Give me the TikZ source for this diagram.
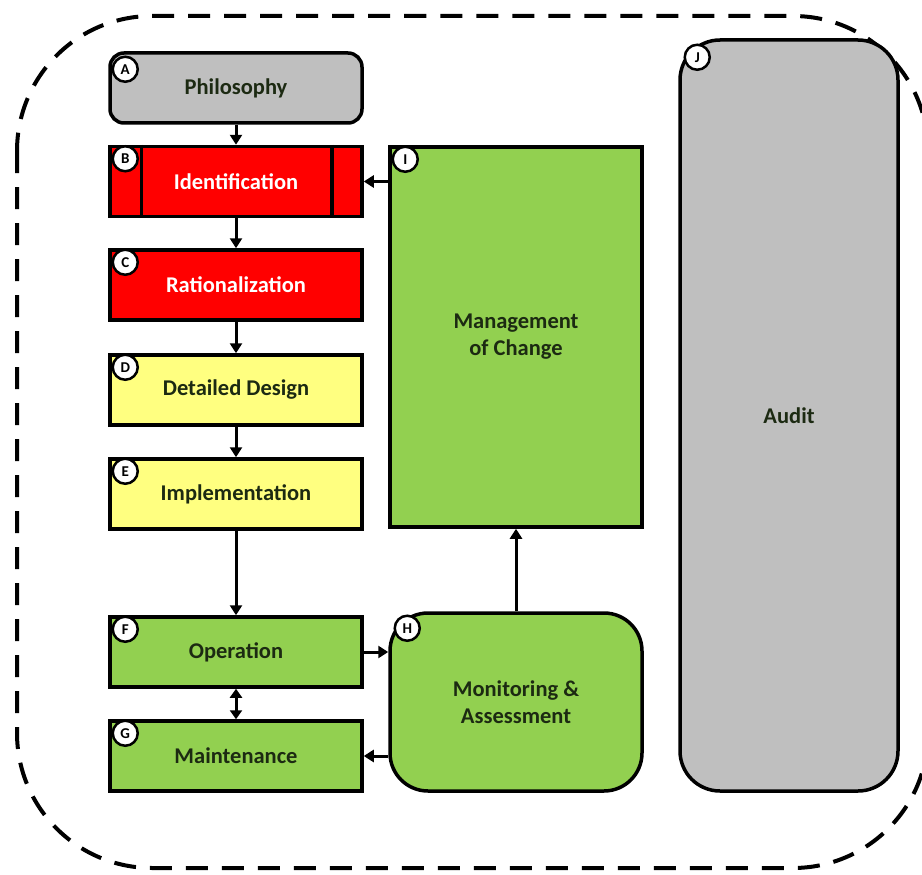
\documentclass[tikz,border=0pt]{standalone}
\usepackage{fontspec}
\setmainfont{Carlito}
\usetikzlibrary{arrows.meta,calc}
\definecolor{gfill}{HTML}{BFBFBF}
\definecolor{rfill}{HTML}{FF0000}
\definecolor{yfill}{HTML}{FFFF80}
\definecolor{grfill}{HTML}{92D050}
\definecolor{dtext}{HTML}{1C2A12}
\tikzset{
  box/.style={draw=black, line width=3.5pt, minimum width=252pt, minimum height=70pt,
    font=\fontsize{22.5}{27}\selectfont\bfseries, text=dtext, align=center, inner sep=0pt},
  lab/.style={circle, draw=black, fill=white, line width=2.5pt, minimum size=25pt, inner sep=0pt,
    font=\fontsize{15}{15}\selectfont\bfseries},
  conn/.style={line width=3pt, -{Triangle[length=10pt,width=12pt]}},
  dconn/.style={line width=3pt, {Triangle[length=9pt,width=12pt]}-{Triangle[length=9pt,width=12pt]}},
}
\begin{document}
\begin{tikzpicture}[x=1pt,y=-1pt]
\useasboundingbox (0,0) rectangle (922,875);
\begin{scope}
\clip (0,0) rectangle (922,875);
\draw[line width=4pt, dash pattern=on 22pt off 14pt, rounded corners=135pt] (17,16) rectangle (928,868);
\end{scope}
% left column
\node[box, fill=gfill, rounded corners=14pt] (A) at (236,88) {Philosophy};
\node[box, fill=rfill, text=white] (B) at (236,181.5) {Identification};
\draw[line width=3.5pt] ([xshift=33pt]B.north west) -- ([xshift=33pt]B.south west);
\draw[line width=3.5pt] ([xshift=-32pt]B.north east) -- ([xshift=-32pt]B.south east);
\node[box, fill=rfill, text=white] (C) at (236,285) {Rationalization};
\node[box, fill=yfill] (D) at (236,390) {Detailed Design};
\node[box, fill=yfill] (E) at (236,494) {Implementation};
\node[box, fill=grfill] (F) at (236,652) {Operation};
\node[box, fill=grfill] (G) at (236,756) {Maintenance};
% middle column
\node[box, fill=grfill, minimum width=252pt, minimum height=380pt] (I) at (516,337) {Management\\of Change};
\node[box, fill=grfill, rounded corners=38pt, minimum width=252pt, minimum height=178pt] (H) at (516,702) {Monitoring \&\\Assessment};
% right
\node[box, fill=gfill, rounded corners=40pt, minimum width=218pt, minimum height=751pt] (J) at (789,415.5) {Audit};
% labels
\node[lab] (la) at ([shift={(17pt,-18pt)}]A.north west) {A};
\node[lab] (lb) at ([shift={(17pt,-14pt)}]B.north west) {B};
\node[lab] (lc) at ([shift={(17pt,-14pt)}]C.north west) {C};
\node[lab] (ld) at ([shift={(17pt,-14pt)}]D.north west) {D};
\node[lab] (le) at ([shift={(17pt,-14pt)}]E.north west) {E};
\node[lab] (lf) at ([shift={(17pt,-14pt)}]F.north west) {F};
\node[lab] (lg) at ([shift={(17pt,-14pt)}]G.north west) {G};
\node[lab] (li) at ([shift={(17pt,-14pt)}]I.north west) {I};
\node[lab] (lh) at ([shift={(19pt,-17pt)}]H.north west) {H};
\node[lab] (lj) at ([shift={(19pt,-19pt)}]J.north west) {J};
% connectors
\draw[conn] (A.south) -- (B.north);
\draw[conn] (B.south) -- (C.north);
\draw[conn] (C.south) -- (D.north);
\draw[conn] (D.south) -- (E.north);
\draw[conn] (E.south) -- (F.north);
\draw[dconn] (F.south) -- (G.north);
\draw[conn] (F.east) -- (F.east -| H.west);
\draw[conn] (G.east -| H.west) -- (G.east);
\draw[conn] (H.north) -- (I.south);
\draw[conn] (I.west |- B.center) -- (B.east);
\end{tikzpicture}
\end{document}
